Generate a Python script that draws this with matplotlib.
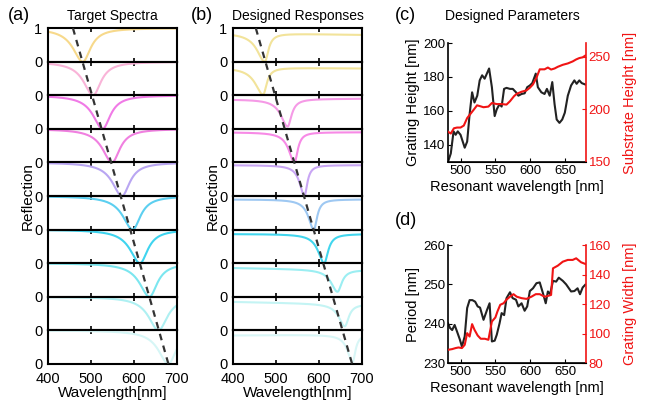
import numpy as np
import matplotlib
matplotlib.use("Agg")
import matplotlib.pyplot as plt
from matplotlib.lines import Line2D

plt.rcParams['font.family'] = ['Liberation Sans', 'DejaVu Sans']

# ---------------- data ----------------
# (a) target spectra: Lorentzian dips (center, left/right half-width)
target_centers = [481, 505, 527, 549, 572, 597, 614, 636, 657, 680]
target_gamma_left = [28, 27, 27, 27, 27, 28, 28, 28, 28, 28]
target_gamma_right = [22, 22, 22, 22, 22, 22, 22, 22, 25, 22]
target_colors = ['#f7d98b', '#f9b4d8', '#f07ae6', '#f080e0', '#b9a6f2',
                 '#5ccff0', '#3fd4ef', '#7be6ef', '#aef0f2', '#d6f6f6']

# (b) designed responses
design_centers = [474, 470, 527, 543, 566, 588, 612, 643, 660, 678]
design_min = [0.0, 0.02, 0.07, 0.0, 0.0, 0.0, 0.0, 0.15, 0.12, 0.05]
design_base_left = [0.86, 0.83, 0.88, 0.9, 0.92, 0.9, 0.87, 0.86, 0.85, 0.85]
design_base_right = [0.80, 0.80, 0.9, 0.9, 0.92, 0.9, 0.87, 0.80, 0.78, 0.88]
design_gamma_left = [22, 22, 19, 16, 13, 15, 17, 18, 17, 14]
design_gamma_right = [10, 10, 11, 9, 8, 9, 11, 12, 11, 8]
design_colors = ['#f2e39a', '#f2e39a', '#f59ae6', '#f78ae6', '#c9a6f4',
                 '#9ec8f2', '#42d6ee', '#9beef2', '#c4f4f4', '#d8f6f6']

guide_a = [458, 680]
guide_b = [453, 677]

# (c) designed parameters
c_wl_black = [482, 486, 490, 493, 496, 500, 506, 509.5, 513, 516.6, 520, 524, 527.5, 531,
              534.6, 541, 545, 549, 552, 556, 559, 562.5, 566, 571, 575, 579.6, 583, 587.6,
              592, 595.7, 599.5, 603, 608, 611, 616, 620.6, 624, 628, 631.7, 635, 638, 642,
              646, 649.7, 654, 658.7, 663.4, 666.7, 670.5, 674, 679]
grating_height = [130, 135, 148, 146, 148, 146, 138.4, 142, 158, 171, 165, 169, 178, 181,
                  179, 185, 174, 157, 161, 164, 162.6, 173, 173.6, 173, 173, 171, 169, 170,
                  170.4, 174, 175, 176.4, 182, 174, 171, 170, 173, 169, 177, 164, 155, 153,
                  155, 159, 169, 175, 178, 176, 178, 176.4, 175.6]
c_wl_red = [482, 486, 490.5, 495, 500, 504.7, 509.5, 514, 519, 523.7, 528, 533, 540, 545,
            552, 559, 566, 571, 576.8, 580.6, 587.6, 594.7, 599.5, 604, 609, 613.7, 620.6,
            625.4, 630, 635, 639.6, 646.8, 654, 661, 666, 670.5, 675.3, 679]
substrate_height = [178.8, 177, 182, 182.7, 182.7, 184.6, 191.7, 195.5, 199.7, 203.8, 203,
                    202, 202.6, 206, 205, 205, 204.5, 207.7, 212.5, 214.7, 216.7, 218, 220.5,
                    223.7, 230, 238, 238, 239.7, 237.8, 238.8, 240.4, 242.3, 243.6, 245.5,
                    247.4, 248.7, 249.4, 251]

# (d)
d_wl_black = [482, 485, 488, 491.5, 495, 499, 502, 506, 509.5, 513, 517, 521, 524.6, 528,
              533, 538, 541.7, 545, 549, 552, 556, 559, 562.6, 566, 571, 574.8, 579.6, 583,
              587.6, 592, 595.7, 599.5, 604, 609, 613.7, 618.4, 622.3, 625.4, 628.6, 632.7,
              637.3, 641, 646.8, 651.6, 658.7, 663.4, 668, 671.5, 675.3, 679]
period = [240.1, 238.9, 238.4, 239.7, 238, 236, 234.2, 236.8, 244, 246, 246, 245.6, 244.4,
          244.1, 241, 243.5, 245.2, 235.5, 235.7, 237.2, 240.1, 242.7, 242.2, 246.5, 248,
          246.5, 246.1, 244.4, 245.2, 243.3, 244.4, 248.3, 249, 250.3, 250.5, 247.7, 245.2,
          248.2, 247.5, 250.9, 250.7, 251.7, 250.9, 250, 248.2, 248.3, 249, 247.5, 249.2,
          249.9]
d_wl_red = [482, 488, 493, 497, 502, 506, 509.5, 513, 516.6, 520, 524.6, 529, 535, 540,
            545, 550, 553, 557, 562, 565.5, 571, 576, 580.6, 587.6, 594.7, 601.8, 608,
            613.7, 620.6, 625.4, 630, 632.7, 639.6, 646.8, 654, 661, 666, 673, 679]
grating_width = [89, 89.5, 90.2, 90.6, 90.2, 92.4, 100.3, 98, 106.4, 102.6, 98.7, 96.5,
                 96.5, 95.8, 108.2, 110.9, 115, 119.5, 120.6, 122.8, 125, 126.7, 125, 124,
                 123.5, 125, 126.7, 126.7, 125, 125.5, 126.2, 144.2, 146, 148.7, 149.9,
                 149.9, 151, 148.3, 147.2]

wl = np.linspace(400, 700, 601)


def dip(x, c, gl, gr, bl, br, mn):
    g = np.where(x < c, gl, gr)
    L = g**2 / ((x - c)**2 + g**2)
    base = bl + (br - bl) * (x - 400) / 300.0
    return base - (base - mn) * L


W, H = 646, 408
fig = plt.figure(figsize=(W / 100, H / 100), dpi=100)

TICK_FS = 10.5
LAB_FS = 11


def stack(left, right, top, bottom, curves, colors, guide, title, letter, letter_x):
    n = len(curves)
    h = (top - bottom) / n
    axes = []
    for i in range(n):
        ax = fig.add_axes([left, top - (i + 1) * h, right - left, h])
        ax.plot(wl, curves[i], color=colors[i], lw=1.5)
        ax.set_xlim(400, 700)
        ax.set_ylim(0, 1)
        ax.set_xticks([400, 500, 600, 700])
        ax.tick_params(axis='x', direction='in', top=True, length=3, width=1.2,
                       labelsize=TICK_FS, pad=6)
        ax.tick_params(axis='y', length=0, labelsize=TICK_FS, pad=4)
        if i == 0:
            ax.set_yticks([0, 1])
        else:
            ax.set_yticks([0])
        if i < n - 1:
            ax.tick_params(axis='x', labelbottom=False)
        for s in ax.spines.values():
            s.set_linewidth(1.5)
        ax.patch.set_alpha(0)
        axes.append(ax)
    axes[-1].set_xlabel('Wavelength[nm]', fontsize=LAB_FS, labelpad=0)
    fig.text(left - 0.031, (top + bottom) / 2, 'Reflection', rotation=90,
             ha='center', va='center', fontsize=LAB_FS)
    # guide line
    p1 = axes[0].transData.transform((guide[0], 1))
    p2 = axes[-1].transData.transform((guide[1], 0))
    inv = fig.transFigure.inverted()
    q1, q2 = inv.transform(p1), inv.transform(p2)
    fig.add_artist(Line2D([q1[0], q2[0]], [q1[1], q2[1]], color='#333333', lw=1.6,
                          ls=(0, (3, 2.5)), zorder=10))
    fig.text((left + right) / 2, 0.962, title, ha='center', va='center', fontsize=10)
    fig.text(letter_x, 0.962, letter, ha='center', va='center', fontsize=13)
    return axes


curves_a = [dip(wl, target_centers[i], target_gamma_left[i], target_gamma_right[i],
                1.0, 1.0, 0.0) for i in range(10)]
curves_b = [dip(wl, design_centers[i], design_gamma_left[i], design_gamma_right[i],
                design_base_left[i], design_base_right[i], design_min[i])
            for i in range(10)]

fig.canvas.draw()
stack(0.0743, 0.274, 0.931, 0.108, curves_a, target_colors, guide_a,
      'Target Spectra', '(a)', 0.03)
stack(0.3607, 0.5604, 0.931, 0.108, curves_b, design_colors, guide_b,
      'Designed Responses', '(b)', 0.313)

RED = '#f01414'
SM_TICK = 9.5
SM_LAB = 10.5


def twin_panel(rect, xb, yb, xr, yr, ylim_l, ylim_r, yt_l, yt_r, lab_l, lab_r):
    ax = fig.add_axes(rect)
    ax.plot(xb, yb, color='#222222', lw=1.5)
    ax.set_xlim(482, 680)
    ax.set_ylim(*ylim_l)
    ax.set_yticks(yt_l)
    ax.set_xticks([500, 550, 600, 650])
    ax.tick_params(direction='in', length=3, labelsize=SM_TICK, pad=2)
    ax.set_ylabel(lab_l, fontsize=SM_LAB, labelpad=2)
    ax.set_xlabel('Resonant wavelength [nm]', fontsize=SM_LAB, labelpad=2)
    ax.spines['top'].set_visible(False)
    ax2 = ax.twinx()
    ax2.plot(xr, yr, color=RED, lw=1.5)
    ax2.set_ylim(*ylim_r)
    ax2.set_yticks(yt_r)
    ax2.tick_params(direction='in', length=3, labelsize=SM_TICK, colors=RED, pad=2)
    ax2.set_ylabel(lab_r, fontsize=SM_LAB, color=RED, labelpad=9)
    ax2.spines['right'].set_color(RED)
    ax2.spines['top'].set_visible(False)
    ax2.spines['left'].set_visible(False)
    for s in ['left', 'bottom']:
        ax.spines[s].set_linewidth(1.2)
    ax2.spines['right'].set_linewidth(1.2)
    ax.spines['right'].set_visible(False)
    return ax


twin_panel([0.6935, 0.603, 0.2135, 0.2916], c_wl_black, grating_height, c_wl_red,
           substrate_height, (130, 200), (150, 263), [140, 160, 180, 200], [150, 200, 250],
           'Grating Height [nm]', 'Substrate Height [nm]')
twin_panel([0.6935, 0.110, 0.2135, 0.2895], d_wl_black, period, d_wl_red, grating_width,
           (230, 260), (80, 160), [230, 240, 250, 260], [80, 100, 120, 140, 160],
           'Period [nm]', 'Grating Width [nm]')

fig.text(0.793, 0.962, 'Designed Parameters', ha='center', va='center', fontsize=10)
fig.text(0.628, 0.962, '(c)', ha='center', va='center', fontsize=13)
fig.text(0.628, 0.46, '(d)', ha='center', va='center', fontsize=13)

fig.savefig('out.png', dpi=100)
